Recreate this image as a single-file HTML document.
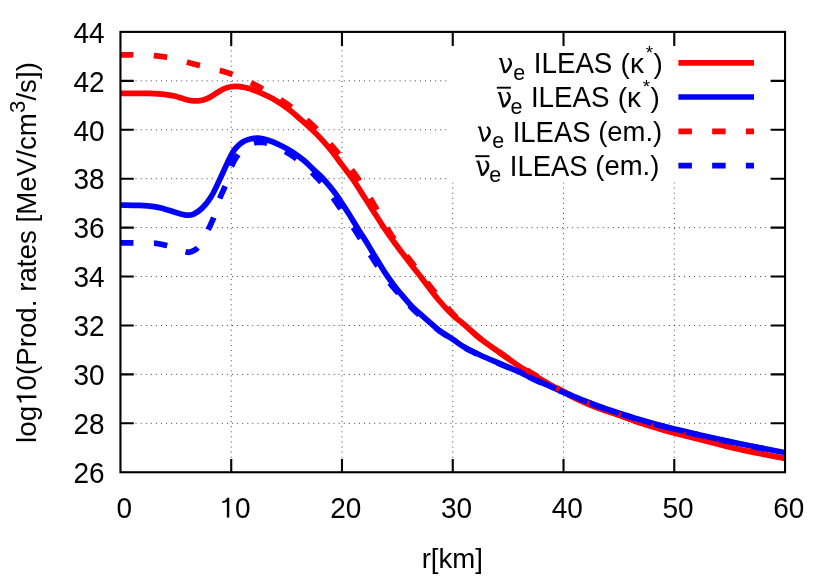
<!DOCTYPE html>
<html>
<head>
<meta charset="utf-8">
<title>Production rates</title>
<style>
html,body{margin:0;padding:0;background:#fff;}
body{width:830px;height:581px;overflow:hidden;}
svg{display:block;will-change:transform;}
text{font-family:"Liberation Sans",sans-serif;font-size:28px;fill:#000;}
.crv{fill:none;stroke-width:5.7;stroke-linejoin:round;stroke-linecap:butt;}
</style>
</head>
<body>
<svg width="830" height="581" viewBox="0 0 830 581">
<rect x="0" y="0" width="830" height="581" fill="#fff"/>
<!-- grid -->
<g stroke="#404040" stroke-width="1" fill="none">
<line x1="231.22" y1="31.90" x2="231.22" y2="472.25" stroke-dasharray="1 4.078" stroke-dashoffset="1.77"/>
<line x1="341.98" y1="31.90" x2="341.98" y2="472.25" stroke-dasharray="1 4.078" stroke-dashoffset="1.77"/>
<line x1="452.75" y1="31.90" x2="452.75" y2="472.25" stroke-dasharray="1 4.078" stroke-dashoffset="1.77"/>
<line x1="563.52" y1="31.90" x2="563.52" y2="472.25" stroke-dasharray="1 4.078" stroke-dashoffset="1.77"/>
<line x1="674.28" y1="31.90" x2="674.28" y2="472.25" stroke-dasharray="1 4.078" stroke-dashoffset="1.77"/>
<line x1="120.45" y1="423.32" x2="785.05" y2="423.32" stroke-dasharray="1 4.078" stroke-dashoffset="0.13"/>
<line x1="120.45" y1="374.39" x2="785.05" y2="374.39" stroke-dasharray="1 4.078" stroke-dashoffset="0.13"/>
<line x1="120.45" y1="325.47" x2="785.05" y2="325.47" stroke-dasharray="1 4.078" stroke-dashoffset="0.13"/>
<line x1="120.45" y1="276.54" x2="785.05" y2="276.54" stroke-dasharray="1 4.078" stroke-dashoffset="0.13"/>
<line x1="120.45" y1="227.61" x2="785.05" y2="227.61" stroke-dasharray="1 4.078" stroke-dashoffset="0.13"/>
<line x1="120.45" y1="178.68" x2="785.05" y2="178.68" stroke-dasharray="1 4.078" stroke-dashoffset="0.13"/>
<line x1="120.45" y1="129.76" x2="785.05" y2="129.76" stroke-dasharray="1 4.078" stroke-dashoffset="0.13"/>
<line x1="120.45" y1="80.83" x2="785.05" y2="80.83" stroke-dasharray="1 4.078" stroke-dashoffset="0.13"/>
</g>
<!-- opaque legend box -->
<rect x="448" y="33" width="319" height="149.4" fill="#fff"/>
<!-- ticks -->
<g stroke="#000" stroke-width="2.1" fill="none">
<path d="M231.22 472.25V459M231.22 31.90V46"/>
<path d="M341.98 472.25V459M341.98 31.90V46"/>
<path d="M452.75 472.25V459M452.75 31.90V46"/>
<path d="M563.52 472.25V459M563.52 31.90V46"/>
<path d="M674.28 472.25V459M674.28 31.90V46"/>
<path d="M120.45 423.32H133.8M785.05 423.32H770.8"/>
<path d="M120.45 374.39H133.8M785.05 374.39H770.8"/>
<path d="M120.45 325.47H133.8M785.05 325.47H770.8"/>
<path d="M120.45 276.54H133.8M785.05 276.54H770.8"/>
<path d="M120.45 227.61H133.8M785.05 227.61H770.8"/>
<path d="M120.45 178.68H133.8M785.05 178.68H770.8"/>
<path d="M120.45 129.76H133.8M785.05 129.76H770.8"/>
<path d="M120.45 80.83H133.8M785.05 80.83H770.8"/>
</g>
<!-- curves -->
<clipPath id="plotclip"><rect x="120.45" y="31.90" width="664.60" height="440.35"/></clipPath>
<g clip-path="url(#plotclip)">
<path class="crv" stroke="#ff0000" d="M120.20 93.40C122.67 93.40 130.03 93.39 135.00 93.40C139.97 93.41 146.17 93.38 150.00 93.45C153.83 93.52 155.33 93.61 158.00 93.80C160.67 93.99 163.25 94.22 166.00 94.60C168.75 94.98 171.50 95.38 174.50 96.10C177.50 96.82 181.58 98.20 184.00 98.90C186.42 99.60 187.43 99.97 189.00 100.30C190.57 100.63 191.90 100.82 193.40 100.90C194.90 100.98 196.40 100.95 198.00 100.80C199.60 100.65 201.33 100.43 203.00 100.00C204.67 99.57 206.40 98.93 208.00 98.20C209.60 97.47 210.77 96.72 212.60 95.60C214.43 94.48 216.92 92.70 219.00 91.50C221.08 90.30 223.10 89.18 225.10 88.40C227.10 87.62 229.12 87.13 231.00 86.80C232.88 86.47 234.40 86.35 236.40 86.40C238.40 86.45 240.68 86.68 243.00 87.10C245.32 87.52 247.00 87.77 250.30 88.90C253.60 90.03 258.62 92.02 262.80 93.90C266.98 95.78 271.20 97.72 275.40 100.20C279.60 102.68 283.90 105.68 288.00 108.80C292.10 111.92 295.98 115.40 300.00 118.90C304.02 122.40 308.20 126.07 312.10 129.80C316.00 133.53 320.08 137.67 323.40 141.30C326.72 144.93 328.93 147.72 332.00 151.60C335.07 155.48 338.40 160.08 341.80 164.60C345.20 169.12 348.52 173.08 352.40 178.70C356.28 184.32 361.33 192.45 365.10 198.30C368.87 204.15 371.87 208.92 375.00 213.80C378.13 218.68 380.57 222.70 383.90 227.60C387.23 232.50 391.48 238.37 395.00 243.20C398.52 248.03 402.13 252.80 405.00 256.60C407.87 260.40 409.60 262.68 412.20 266.00C414.80 269.32 417.95 273.13 420.60 276.55C423.25 279.97 424.87 282.34 428.10 286.50C431.33 290.66 435.92 296.75 440.00 301.50C444.08 306.25 448.38 311.00 452.60 315.00C456.82 319.00 460.73 321.57 465.30 325.50C469.87 329.43 474.33 334.13 480.00 338.60C485.67 343.07 492.87 347.77 499.30 352.30C505.73 356.83 512.18 361.62 518.60 365.80C525.02 369.98 531.38 373.60 537.80 377.40C544.22 381.20 551.40 385.40 557.10 388.60C562.80 391.80 566.93 394.05 572.00 396.60C577.07 399.15 582.83 401.87 587.50 403.90C592.17 405.93 594.58 406.85 600.00 408.80C605.42 410.75 613.98 413.47 620.00 415.60C626.02 417.73 630.27 419.62 636.10 421.60C641.93 423.58 648.63 425.60 655.00 427.50C661.37 429.40 666.80 431.02 674.30 433.00C681.80 434.98 689.05 436.65 700.00 439.40C710.95 442.15 725.67 446.30 740.00 449.50C754.33 452.70 778.33 457.08 786.00 458.60"/>
<path class="crv" stroke="#0000ff" d="M120.20 205.00C123.45 205.07 134.05 205.13 139.70 205.40C145.35 205.67 150.00 206.02 154.10 206.60C158.20 207.18 160.68 207.92 164.30 208.90C167.92 209.88 172.18 211.47 175.80 212.50C179.42 213.53 183.10 214.80 186.00 215.10C188.90 215.40 190.55 215.42 193.20 214.30C195.85 213.18 198.88 211.37 201.90 208.40C204.92 205.43 208.17 201.65 211.30 196.50C214.43 191.35 217.98 183.18 220.70 177.50C223.42 171.82 225.42 166.88 227.60 162.40C229.78 157.92 231.82 153.60 233.80 150.60C235.78 147.60 237.63 146.03 239.50 144.40C241.37 142.77 243.03 141.75 245.00 140.80C246.97 139.85 249.03 139.15 251.30 138.70C253.57 138.25 255.78 137.83 258.60 138.10C261.42 138.37 264.60 139.12 268.20 140.30C271.80 141.48 276.18 143.28 280.20 145.20C284.22 147.12 288.28 149.20 292.30 151.80C296.32 154.40 300.62 157.70 304.30 160.80C307.98 163.90 311.25 167.42 314.40 170.40C317.55 173.38 319.92 175.13 323.20 178.70C326.48 182.27 330.98 187.72 334.10 191.80C337.22 195.88 339.48 199.58 341.90 203.20C344.32 206.82 345.80 209.03 348.60 213.50C351.40 217.97 355.68 225.17 358.70 230.00C361.72 234.83 364.45 238.88 366.70 242.50C368.95 246.12 369.23 246.80 372.20 251.70C375.17 256.60 380.78 266.18 384.50 271.90C388.22 277.62 392.05 282.68 394.50 286.00C396.95 289.32 396.50 288.60 399.20 291.80C401.90 295.00 407.35 301.63 410.70 305.20C414.05 308.77 416.42 310.58 419.30 313.20C422.18 315.82 424.78 318.10 428.00 320.90C431.22 323.70 434.50 326.95 438.60 330.00C442.70 333.05 448.35 336.37 452.60 339.20C456.85 342.03 459.53 344.37 464.10 347.00C468.67 349.63 474.13 352.27 480.00 355.00C485.87 357.73 492.87 360.63 499.30 363.40C505.73 366.17 512.18 368.68 518.60 371.60C525.02 374.52 531.38 377.95 537.80 380.90C544.22 383.85 552.83 387.45 557.10 389.30C561.37 391.15 560.55 390.78 563.40 392.00C566.25 393.22 570.18 394.93 574.20 396.60C578.22 398.27 582.48 400.05 587.50 402.00C592.52 403.95 598.88 406.40 604.30 408.30C609.72 410.20 614.70 411.68 620.00 413.40C625.30 415.12 630.27 416.83 636.10 418.60C641.93 420.37 648.63 422.28 655.00 424.00C661.37 425.72 666.80 427.07 674.30 428.90C681.80 430.73 689.05 432.53 700.00 435.00C710.95 437.47 725.67 440.73 740.00 443.70C754.33 446.67 778.33 451.28 786.00 452.80"/>
<path class="crv" stroke="#ff0000" d="M119.95 54.79L120.27 54.79L120.78 54.79L121.29 54.79L121.80 54.79L122.32 54.79L122.83 54.79L123.34 54.79L123.84 54.79L124.34 54.79L124.83 54.79L125.32 54.80L125.79 54.80L126.25 54.80L126.70 54.80L127.14 54.80L127.57 54.80L127.99 54.80L128.41 54.80L128.83 54.80L129.24 54.79L129.65 54.79L130.05 54.79L130.46 54.78L130.86 54.78L131.26 54.77L131.67 54.77L132.07 54.77L132.48 54.76L132.89 54.76L133.31 54.76L133.45 54.76 M153.78 55.67L154.49 55.73L155.20 55.79L155.91 55.84L156.60 55.90L157.29 55.96L157.96 56.03L158.62 56.09L159.26 56.16L159.89 56.23L160.50 56.30L161.09 56.37L161.67 56.45L162.24 56.52L162.80 56.60L163.35 56.68L163.89 56.76L164.42 56.84L164.94 56.92L165.46 57.00L165.97 57.09L166.47 57.18L166.97 57.27L167.17 57.30 M186.89 62.11L187.00 62.14L187.59 62.31L188.18 62.48L188.77 62.64L189.36 62.81L189.94 62.97L190.52 63.13L191.11 63.29L191.68 63.45L192.26 63.60L192.83 63.75L193.40 63.90L193.97 64.05L194.53 64.19L195.09 64.33L195.66 64.48L196.22 64.62L196.78 64.76L197.34 64.89L197.89 65.03L198.45 65.17L199.01 65.30L199.56 65.44L199.95 65.53 M219.71 70.44L219.84 70.47L220.38 70.61L220.92 70.76L221.46 70.90L221.99 71.05L222.52 71.20L223.06 71.35L223.59 71.50L224.11 71.66L224.64 71.81L225.16 71.97L225.68 72.13L226.20 72.30L226.71 72.47L227.23 72.63L227.73 72.80L228.23 72.97L228.73 73.14L229.23 73.32L229.73 73.49L230.22 73.66L230.71 73.84L231.20 74.02L231.68 74.20L232.17 74.38L232.57 74.53 M250.90 82.71L251.16 82.84L251.69 83.11L252.23 83.38L252.76 83.65L253.29 83.92L253.82 84.19L254.34 84.46L254.86 84.73L255.38 85.00L255.89 85.27L256.40 85.54L256.90 85.80L257.40 86.06L257.89 86.32L258.38 86.59L258.86 86.85L259.34 87.10L259.82 87.36L260.29 87.62L260.77 87.88L261.23 88.14L261.70 88.40L262.16 88.65L262.63 88.91L262.83 89.03 M280.37 99.57L280.61 99.72L281.11 100.05L281.62 100.37L282.12 100.70L282.62 101.02L283.11 101.35L283.61 101.68L284.09 102.00L284.58 102.33L285.06 102.65L285.53 102.98L286.00 103.30L286.46 103.62L286.93 103.95L287.38 104.27L287.84 104.59L288.28 104.91L288.73 105.23L289.17 105.56L289.62 105.88L290.05 106.20L290.49 106.52L290.92 106.85L291.35 107.17L291.47 107.26 M306.81 119.85L307.23 120.22L307.66 120.60L308.08 120.98L308.51 121.37L308.93 121.75L309.35 122.13L309.76 122.51L310.17 122.89L310.59 123.27L310.99 123.64L311.40 124.02L311.80 124.40L312.20 124.78L312.59 125.15L312.98 125.52L313.37 125.90L313.75 126.27L314.14 126.64L314.51 127.01L314.89 127.38L315.27 127.75L315.64 128.12L316.01 128.49L316.38 128.86L316.63 129.12 M330.20 143.88L330.42 144.13L330.81 144.59L331.20 145.03L331.58 145.48L331.97 145.93L332.35 146.38L332.73 146.82L333.11 147.26L333.49 147.70L333.86 148.14L334.23 148.57L334.60 149.00L334.97 149.43L335.33 149.85L335.69 150.27L336.04 150.69L336.40 151.11L336.75 151.53L337.10 151.94L337.45 152.35L337.80 152.76L338.14 153.17L338.49 153.58L338.83 153.99L338.96 154.15 M351.65 169.80L351.87 170.08L352.23 170.54L352.58 171.01L352.94 171.47L353.29 171.94L353.64 172.40L353.99 172.87L354.34 173.33L354.69 173.80L355.03 174.27L355.36 174.73L355.70 175.20L356.03 175.67L356.36 176.14L356.69 176.60L357.01 177.07L357.34 177.55L357.66 178.02L357.98 178.49L358.30 178.96L358.61 179.44L358.93 179.91L359.24 180.39L359.50 180.78 M370.29 198.28L370.56 198.75L370.85 199.24L371.14 199.73L371.42 200.21L371.71 200.70L372.00 201.19L372.28 201.67L372.56 202.16L372.85 202.65L373.13 203.13L373.42 203.62L373.70 204.10L373.98 204.58L374.26 205.06L374.55 205.54L374.83 206.02L375.10 206.50L375.38 206.98L375.66 207.46L375.94 207.94L376.21 208.41L376.49 208.89L376.76 209.36L377.04 209.84L377.09 209.93 M387.09 227.78L387.30 228.16L387.59 228.67L387.87 229.17L388.16 229.68L388.44 230.18L388.73 230.68L389.02 231.17L389.32 231.67L389.61 232.16L389.90 232.64L390.20 233.12L390.50 233.60L390.80 234.07L391.10 234.54L391.40 235.01L391.71 235.47L392.01 235.92L392.32 236.38L392.62 236.83L392.93 237.28L393.24 237.72L393.55 238.17L393.86 238.61L394.17 239.05L394.27 239.19 M406.58 255.75L406.75 255.97L407.12 256.45L407.48 256.92L407.84 257.39L408.21 257.86L408.57 258.33L408.93 258.80L409.28 259.26L409.64 259.73L410.00 260.19L410.35 260.65L410.70 261.10L411.05 261.55L411.40 262.00L411.75 262.45L412.09 262.89L412.44 263.34L412.79 263.78L413.13 264.22L413.48 264.65L413.82 265.09L414.17 265.53L414.51 265.96L414.85 266.39L414.87 266.41 M427.10 282.33L427.16 282.41L427.50 282.87L427.84 283.32L428.18 283.77L428.52 284.22L428.86 284.67L429.19 285.11L429.53 285.55L429.87 285.99L430.20 286.42L430.53 286.85L430.87 287.28L431.20 287.70L431.53 288.12L431.86 288.53L432.18 288.94L432.51 289.34L432.83 289.74L433.15 290.13L433.47 290.52L433.79 290.91L434.11 291.30L434.43 291.68L434.74 292.06L435.06 292.44L435.37 292.82L435.47 292.93 M447.42 307.47L447.45 307.51L447.82 307.96L448.19 308.41L448.56 308.86L448.93 309.30L449.29 309.74L449.66 310.17L450.02 310.59L450.38 311.01L450.74 311.42L451.10 311.82L451.45 312.22L451.80 312.60L452.15 312.98L452.51 313.36L452.88 313.75L453.26 314.13L453.63 314.52L454.02 314.90L454.40 315.29L454.79 315.67L455.18 316.05L455.57 316.42L455.96 316.79L456.34 317.16L456.57 317.37 M471.48 330.85L471.86 331.21L472.34 331.65L472.82 332.10L473.30 332.54L473.79 332.99L474.29 333.44L474.79 333.89L475.29 334.34L475.80 334.80L476.31 335.25L476.83 335.70L477.36 336.15L477.89 336.60L478.43 337.05L478.98 337.50L479.54 337.95L480.10 338.40L480.67 338.85L481.25 339.30L481.71 339.65 M498.33 351.35L498.75 351.65L499.40 352.10L500.04 352.55L500.69 353.01L501.33 353.47L501.97 353.92L502.62 354.38L503.26 354.84L503.91 355.30L504.55 355.76L505.19 356.22L505.84 356.69L506.48 357.15L507.12 357.61L507.77 358.07L508.41 358.52L509.06 358.98L509.33 359.17 M526.30 369.91L526.92 370.28L527.56 370.66L528.20 371.04L528.84 371.42L529.48 371.80L530.12 372.18L530.76 372.56L531.40 372.93L532.04 373.31L532.68 373.68L533.32 374.06L533.96 374.44L534.60 374.81L535.24 375.19L535.88 375.56L536.52 375.94L537.16 376.32L537.80 376.70L537.92 376.77 M556.50 387.56L556.53 387.58L557.10 387.90L557.66 388.22L558.22 388.53L558.77 388.83L559.30 389.13L559.83 389.43L560.35 389.72L560.87 390.00L561.37 390.28L561.87 390.56L562.37 390.83L562.86 391.10L563.35 391.36L563.83 391.63L564.31 391.89L564.79 392.14L565.26 392.40L565.74 392.65L566.21 392.90L566.68 393.15L567.15 393.40L567.62 393.65L568.10 393.90L568.35 394.03 M587.00 402.98L587.03 402.99L587.50 403.20L587.96 403.40L588.40 403.59L588.84 403.78L589.26 403.96L589.67 404.13L590.07 404.30L590.47 404.47L590.85 404.63L591.23 404.79L591.61 404.94L591.98 405.09L592.36 405.24L592.73 405.39L593.10 405.54L593.47 405.68L593.84 405.83L594.22 405.97L594.60 406.12L594.99 406.27L595.39 406.41L595.79 406.57L596.21 406.72L596.63 406.88L597.07 407.04L597.52 407.20L597.98 407.37L598.46 407.54L598.96 407.72L599.47 407.91L599.55 407.94 M618.60 414.41L618.76 414.47L619.39 414.68L620.00 414.90L620.60 415.11L621.18 415.32L621.76 415.53L622.32 415.74L622.88 415.95L623.42 416.15L623.97 416.36L624.50 416.56L625.03 416.76L625.55 416.96L626.07 417.16L626.59 417.36L627.10 417.56L627.61 417.76L628.12 417.96L628.63 418.15L629.14 418.35L629.65 418.55L630.16 418.74L630.67 418.94L631.19 419.13L631.24 419.15 M651.10 425.63L651.15 425.65L651.79 425.84L652.44 426.03L653.08 426.23L653.72 426.42L654.36 426.61L655.00 426.80L655.63 426.99L656.26 427.18L656.88 427.36L657.50 427.55L658.12 427.73L658.73 427.91L659.34 428.09L659.95 428.27L660.56 428.45L661.17 428.63L661.77 428.81L662.38 428.99L663.00 429.16L663.61 429.34L664.04 429.47 M683.60 434.66L684.23 434.81L685.04 435.01L685.86 435.21L686.69 435.42L687.53 435.62L688.38 435.83L689.25 436.04L690.14 436.26L691.04 436.48L691.95 436.70L692.89 436.93L693.84 437.17L694.82 437.41L695.81 437.65L696.71 437.88 M716.50 443.00L717.37 443.23L718.73 443.58L720.10 443.94L721.49 444.30L722.88 444.65L724.28 445.01L725.69 445.37L727.11 445.73L728.53 446.08L729.58 446.34 M749.50 450.82L749.55 450.83L751.28 451.18L753.04 451.54L754.81 451.89L756.59 452.24L758.38 452.60L760.18 452.95L761.96 453.30L762.74 453.45 M782.70 457.26L783.24 457.36L784.26 457.56L785.18 457.74L786.00 457.90"/>

<path class="crv" stroke="#0000ff" d="M119.95 242.79L120.27 242.79L120.78 242.79L121.29 242.79L121.80 242.79L122.32 242.79L122.83 242.79L123.34 242.79L123.84 242.79L124.34 242.79L124.83 242.79L125.32 242.80L125.79 242.80L126.25 242.80L126.70 242.80L127.14 242.80L127.58 242.80L128.02 242.81L128.46 242.81L128.90 242.81L129.34 242.81L129.78 242.81L130.22 242.81L130.66 242.82L131.10 242.82L131.54 242.82L131.98 242.82L132.42 242.83L132.86 242.83L133.30 242.83L133.45 242.83 M153.93 243.20L154.00 243.20L154.34 243.22L154.65 243.25L154.96 243.27L155.25 243.29L155.53 243.32L155.79 243.35L156.05 243.37L156.29 243.40L156.52 243.43L156.75 243.46L156.96 243.49L157.17 243.53L157.37 243.56L157.57 243.59L157.76 243.62L157.95 243.66L158.13 243.69L158.32 243.73L158.50 243.77L158.67 243.80L158.85 243.84L159.03 243.88L159.21 243.92L159.40 243.96L159.59 244.00L159.78 244.04L159.97 244.08L160.18 244.12L160.38 244.16L160.60 244.20L160.82 244.24L161.03 244.28L161.25 244.32L161.46 244.36L161.66 244.40L161.87 244.44L162.07 244.48L162.28 244.52L162.48 244.56L162.68 244.60L162.88 244.65L163.09 244.69L163.29 244.73L163.49 244.77L163.70 244.82L163.91 244.86L164.12 244.91L164.33 244.96L164.54 245.01L164.76 245.06L164.98 245.12L165.21 245.17L165.44 245.23L165.68 245.29L165.91 245.35L166.16 245.42L166.41 245.48L166.67 245.55L166.93 245.62L167.18 245.69 M185.51 251.67L185.73 251.73L185.99 251.81L186.24 251.88L186.48 251.94L186.70 252.00L186.91 252.05L187.11 252.10L187.29 252.13L187.46 252.17L187.62 252.20L187.77 252.22L187.91 252.24L188.04 252.26L188.16 252.27L188.28 252.28L188.38 252.29L188.49 252.29L188.58 252.29L188.67 252.28L188.76 252.28L188.84 252.27L188.92 252.25L188.99 252.24L189.07 252.22L189.14 252.21L189.22 252.19L189.29 252.17L189.37 252.15L189.45 252.13L189.53 252.11L189.61 252.08L189.70 252.06L189.80 252.04L189.89 252.02L190.00 252.00L190.11 251.98L190.21 251.96L190.32 251.94L190.42 251.91L190.53 251.89L190.63 251.86L190.73 251.84L190.83 251.81L190.93 251.78L191.03 251.75L191.13 251.72L191.23 251.69L191.34 251.65L191.44 251.62L191.54 251.58L191.64 251.54L191.74 251.50L191.85 251.46L191.95 251.42L192.06 251.37L192.16 251.32L192.27 251.27L192.38 251.22L192.49 251.17L192.60 251.11L192.72 251.05L192.84 250.99L192.95 250.93L193.08 250.87L193.20 250.80L193.33 250.73L193.45 250.67L193.58 250.60L193.71 250.54L193.84 250.47L193.97 250.41L194.10 250.34L194.24 250.28L194.37 250.21L194.51 250.14L194.64 250.07L194.78 250.00L194.92 249.93L195.06 249.85L195.21 249.77L195.35 249.68L195.49 249.59L195.64 249.50L195.79 249.40L195.94 249.30L196.09 249.19L196.24 249.08L196.39 248.96L196.55 248.83L196.70 248.69L196.86 248.55L197.02 248.40L197.18 248.24L197.34 248.08L197.50 247.90L197.66 247.72 M208.08 229.77L208.23 229.46L208.40 229.10L208.57 228.74L208.75 228.38L208.92 228.02L209.10 227.65L209.27 227.29L209.45 226.93L209.62 226.57L209.80 226.21L209.97 225.85L210.15 225.49L210.32 225.13L210.50 224.77L210.67 224.41L210.84 224.05L211.01 223.69L211.18 223.33L211.35 222.97L211.52 222.62L211.69 222.26L211.85 221.90L212.02 221.54L212.18 221.18L212.34 220.82L212.50 220.46L212.65 220.10L212.81 219.74L212.96 219.38L213.11 219.02L213.26 218.66L213.40 218.30L213.54 217.94L213.68 217.58L213.71 217.51 M219.73 198.45L219.77 198.35L219.90 198.00L220.04 197.65L220.18 197.29L220.33 196.92L220.48 196.55L220.64 196.17L220.80 195.80L220.97 195.41L221.14 195.03L221.32 194.64L221.50 194.24L221.68 193.85L221.86 193.45L222.04 193.06L222.23 192.66L222.41 192.26L222.60 191.86L222.78 191.45L222.97 191.05L223.15 190.65L223.34 190.26L223.52 189.86L223.70 189.46L223.87 189.07L224.05 188.68L224.22 188.29L224.38 187.90L224.54 187.52L224.70 187.14L224.85 186.77L225.00 186.40L225.13 186.08 M231.55 166.27L231.57 166.24L231.71 165.89L231.85 165.54L232.00 165.20L232.15 164.86L232.30 164.52L232.46 164.18L232.62 163.84L232.78 163.51L232.94 163.17L233.10 162.84L233.27 162.50L233.44 162.17L233.61 161.84L233.78 161.51L233.96 161.18L234.14 160.86L234.32 160.53L234.50 160.21L234.68 159.88L234.87 159.56L235.06 159.24L235.25 158.92L235.44 158.60L235.64 158.29L235.84 157.97L236.04 157.66L236.24 157.35L236.44 157.03L236.65 156.72L236.86 156.42L237.07 156.11L237.28 155.80L237.50 155.50L237.72 155.20L237.94 154.89L238.16 154.58L238.18 154.55 M253.92 143.01L254.04 142.98L254.30 142.90L254.56 142.83L254.81 142.76L255.05 142.71L255.29 142.65L255.52 142.61L255.75 142.57L255.97 142.53L256.19 142.50L256.41 142.47L256.62 142.45L256.83 142.43L257.03 142.42L257.23 142.41L257.43 142.40L257.63 142.40L257.83 142.40L258.02 142.40L258.22 142.40L258.41 142.41L258.60 142.41L258.80 142.42L258.99 142.43L259.19 142.44L259.38 142.45L259.58 142.46L259.78 142.47L259.98 142.48L260.18 142.49L260.39 142.49L260.60 142.50L260.81 142.50L261.01 142.51L261.21 142.51L261.41 142.50L261.60 142.50L261.78 142.50L261.97 142.50L262.15 142.49L262.34 142.49L262.52 142.49L262.70 142.49L262.88 142.49L263.07 142.49L263.25 142.50L263.44 142.51L263.64 142.52L263.83 142.53L264.03 142.55L264.24 142.57L264.45 142.60L264.67 142.63L264.89 142.67L265.12 142.71L265.36 142.76L265.61 142.82L265.87 142.88L266.13 142.95L266.41 143.02L266.70 143.11L267.00 143.20L267.26 143.28 M285.23 151.50L285.33 151.56L285.73 151.78L286.13 152.01L286.53 152.23L286.93 152.46L287.33 152.70L287.73 152.93L288.13 153.18L288.54 153.42L288.94 153.67L289.35 153.93L289.76 154.19L290.17 154.45L290.58 154.72L291.00 155.00L291.42 155.28L291.84 155.57L292.26 155.86L292.69 156.15L293.11 156.45L293.54 156.75L293.97 157.06L294.41 157.37L294.84 157.69L295.27 158.00L295.71 158.33L296.15 158.65L296.50 158.92 M311.91 172.45L312.16 172.70L312.58 173.12L312.99 173.54L313.41 173.97L313.82 174.39L314.23 174.81L314.63 175.23L315.03 175.65L315.43 176.06L315.82 176.48L316.21 176.89L316.60 177.30L316.98 177.71L317.36 178.11L317.73 178.52L318.10 178.92L318.47 179.32L318.83 179.72L319.19 180.12L319.54 180.52L319.90 180.91L320.25 181.31L320.60 181.71L320.94 182.11L321.12 182.31 M333.05 197.85L333.28 198.18L333.60 198.65L333.93 199.12L334.26 199.60L334.59 200.07L334.92 200.55L335.24 201.02L335.57 201.50L335.90 201.97L336.24 202.45L336.57 202.92L336.90 203.40L337.23 203.88L337.57 204.35L337.90 204.83L338.24 205.31L338.58 205.79L338.91 206.27L339.25 206.75L339.59 207.23L339.92 207.72L340.26 208.20L340.60 208.68L340.77 208.93 M353.15 227.32L353.34 227.61L353.66 228.11L353.99 228.61L354.31 229.11L354.63 229.61L354.95 230.10L355.26 230.59L355.58 231.08L355.89 231.57L356.19 232.05L356.50 232.53L356.80 233.00L357.10 233.47L357.39 233.93L357.68 234.40L357.97 234.85L358.25 235.31L358.53 235.76L358.81 236.20L359.08 236.65L359.36 237.09L359.63 237.53L359.89 237.97L360.16 238.40L360.36 238.73 M370.27 254.71L370.56 255.16L370.86 255.63L371.16 256.11L371.46 256.58L371.76 257.06L372.06 257.54L372.37 258.01L372.67 258.49L372.98 258.97L373.28 259.44L373.59 259.92L373.90 260.40L374.21 260.88L374.52 261.36L374.83 261.85L375.14 262.33L375.45 262.82L375.76 263.31L376.07 263.80L376.39 264.29L376.70 264.79L377.01 265.28L377.33 265.78L377.53 266.09 M389.69 283.00L389.82 283.16L390.18 283.60L390.53 284.03L390.89 284.46L391.24 284.89L391.59 285.31L391.94 285.74L392.29 286.16L392.64 286.57L392.98 286.98L393.32 287.39L393.66 287.80L394.00 288.20L394.33 288.60L394.66 288.99L394.99 289.37L395.32 289.76L395.64 290.13L395.96 290.50L396.28 290.87L396.60 291.24L396.91 291.60L397.23 291.96L397.54 292.31L397.85 292.66L398.16 293.02L398.42 293.30 M409.60 305.55L409.93 305.90L410.29 306.29L410.66 306.67L411.02 307.06L411.38 307.44L411.75 307.82L412.11 308.19L412.48 308.57L412.84 308.94L413.20 309.31L413.57 309.68L413.93 310.04L414.30 310.40L414.67 310.76L415.06 311.13L415.45 311.51L415.85 311.89L416.27 312.28L416.69 312.66L417.11 313.06L417.54 313.45L417.98 313.84L418.41 314.24L418.85 314.63L419.25 314.99 M436.05 328.30L436.23 328.45L436.61 328.76L437.00 329.07L437.39 329.38L437.79 329.69L438.19 329.99L438.60 330.30L439.02 330.61L439.44 330.91L439.87 331.22L440.32 331.53L440.77 331.84L441.22 332.16L441.69 332.47L442.15 332.78L442.63 333.10L443.11 333.41L443.59 333.73L444.08 334.04L444.56 334.35L445.05 334.67L445.54 334.98L446.04 335.29L446.53 335.61L447.02 335.92L447.14 335.99 M465.04 347.84L465.50 348.09L465.97 348.35L466.46 348.62L466.94 348.88L467.44 349.14L467.94 349.41L468.44 349.67L468.95 349.94L469.46 350.20L469.98 350.47L470.50 350.73L471.03 351.00L471.56 351.26L472.10 351.53L472.64 351.79L473.18 352.06L473.73 352.33L474.29 352.60L474.84 352.86L475.40 353.13L475.97 353.40L476.53 353.67L477.09 353.93 M496.74 362.60L497.35 362.87L498.01 363.14L498.65 363.42L499.30 363.70L499.94 363.98L500.59 364.25L501.23 364.52L501.87 364.79L502.52 365.07L503.16 365.34L503.81 365.60L504.45 365.87L505.09 366.14L505.74 366.41L506.38 366.67L507.02 366.94L507.67 367.21L508.31 367.48L508.96 367.74L509.18 367.84 M528.70 376.79L528.84 376.86L529.48 377.17L530.12 377.49L530.76 377.81L531.40 378.13L532.04 378.44L532.68 378.76L533.32 379.07L533.96 379.38L534.60 379.69L535.24 380.00L535.88 380.30L536.52 380.60L537.16 380.90L537.80 381.20L538.45 381.50L539.11 381.80L539.78 382.10L540.47 382.41L540.89 382.59 M558.90 390.38L559.12 390.47L559.37 390.58L559.59 390.68L559.80 390.77L560.00 390.85L560.17 390.93L560.34 391.00L560.50 391.07L560.64 391.13L560.78 391.19L560.92 391.24L561.05 391.30L561.18 391.36L561.31 391.41L561.45 391.47L561.59 391.53L561.74 391.59L561.89 391.66L562.06 391.73L562.24 391.81L562.43 391.89L562.65 391.98L562.88 392.08L563.13 392.18L563.40 392.30L563.69 392.42L563.98 392.55L564.29 392.68L564.60 392.81L564.91 392.95L565.23 393.09L565.56 393.23L565.89 393.37L566.23 393.52L566.57 393.66L566.92 393.81L567.28 393.96L567.63 394.12L568.00 394.27L568.36 394.43L568.73 394.59L569.11 394.75L569.48 394.91L569.86 395.07L570.25 395.24L570.63 395.40L571.02 395.57L571.31 395.69 M589.40 403.04L589.57 403.10L590.11 403.31L590.65 403.52L591.20 403.73L591.76 403.95L592.32 404.16L592.88 404.38L593.45 404.59L594.02 404.81L594.60 405.03L595.17 405.25L595.75 405.47L596.33 405.69L596.91 405.91L597.49 406.12L598.07 406.34L598.65 406.56L599.23 406.77L599.81 406.98L600.38 407.19L600.95 407.40L601.52 407.61L602.03 407.79 M621.00 414.03L621.06 414.04L621.58 414.22L622.11 414.39L622.63 414.56L623.15 414.73L623.67 414.90L624.19 415.07L624.71 415.25L625.23 415.42L625.75 415.59L626.28 415.76L626.80 415.94L627.32 416.11L627.85 416.28L628.38 416.45L628.91 416.63L629.44 416.80L629.97 416.97L630.51 417.15L631.05 417.32L631.60 417.50L632.14 417.67L632.69 417.85L633.25 418.02L633.81 418.20L633.84 418.20 M653.50 423.89L653.72 423.95L654.36 424.13L655.00 424.30L655.63 424.47L656.26 424.64L656.88 424.80L657.50 424.97L658.12 425.13L658.73 425.29L659.34 425.45L659.95 425.61L660.56 425.77L661.17 425.93L661.77 426.08L662.38 426.24L663.00 426.39L663.61 426.55L664.22 426.71L664.85 426.86L665.47 427.02L666.10 427.18L666.56 427.29 M686.00 432.05L686.69 432.21L687.53 432.41L688.38 432.62L689.25 432.82L690.14 433.03L691.04 433.24L691.95 433.46L692.89 433.67L693.84 433.89L694.82 434.12L695.81 434.35L696.82 434.58L697.86 434.82L698.92 435.06L699.15 435.11 M718.90 439.50L720.10 439.76L721.49 440.06L722.88 440.37L724.28 440.67L725.69 440.97L727.11 441.28L728.53 441.58L729.96 441.89L731.39 442.19L732.10 442.34 M751.90 446.41L753.04 446.64L754.81 446.99L756.59 447.34L758.38 447.69L760.18 448.05L761.96 448.40L763.74 448.75L765.14 449.02 M785.10 452.92L785.18 452.94L786.00 453.10"/>
</g>
<!-- border -->
<rect x="120.45" y="31.90" width="664.60" height="440.35" fill="none" stroke="#000" stroke-width="2.1"/>
<!-- tick labels -->
<text transform="translate(104.60 483.05) scale(1 1.047)" text-anchor="end">26</text>
<text transform="translate(104.60 434.12) scale(1 1.047)" text-anchor="end">28</text>
<text transform="translate(104.60 385.19) scale(1 1.047)" text-anchor="end">30</text>
<text transform="translate(104.60 336.27) scale(1 1.047)" text-anchor="end">32</text>
<text transform="translate(104.60 287.34) scale(1 1.047)" text-anchor="end">34</text>
<text transform="translate(104.60 238.41) scale(1 1.047)" text-anchor="end">36</text>
<text transform="translate(104.60 189.48) scale(1 1.047)" text-anchor="end">38</text>
<text transform="translate(104.60 140.56) scale(1 1.047)" text-anchor="end">40</text>
<text transform="translate(104.60 91.63) scale(1 1.047)" text-anchor="end">42</text>
<text transform="translate(104.60 42.70) scale(1 1.047)" text-anchor="end">44</text>
<text transform="translate(124.25 517.60) scale(1 1.047)" text-anchor="middle">0</text>
<path d="M10.43 -19.88V0H8.02V-15.96Q6.9 -15.3 6.21 -15.06Q5 -14.75 3.5 -14.7V-16.51Q5.2 -16.7 6.21 -17.17Q7.3 -17.9 7.9 -19L8.44 -19.88Z" transform="translate(218.84 517.60)" fill="#000"/>
<text transform="translate(235.02 517.60) scale(1 1.047)">0</text>
<text transform="translate(345.78 517.60) scale(1 1.047)" text-anchor="middle">20</text>
<text transform="translate(456.55 517.60) scale(1 1.047)" text-anchor="middle">30</text>
<text transform="translate(567.32 517.60) scale(1 1.047)" text-anchor="middle">40</text>
<text transform="translate(678.08 517.60) scale(1 1.047)" text-anchor="middle">50</text>
<text transform="translate(788.85 517.60) scale(1 1.047)" text-anchor="middle">60</text>
<!-- axis titles -->
<g transform="translate(36.4 252.5) rotate(-90) scale(0.991 1)">
<text x="-192.19" y="0">log</text>
<path d="M10.43 -19.88V0H8.02V-15.96Q6.9 -15.3 6.21 -15.06Q5 -14.75 3.5 -14.7V-16.51Q5.2 -16.7 6.21 -17.17Q7.3 -17.9 7.9 -19L8.44 -19.88Z" transform="translate(-154.81 0)" fill="#000"/>
<text x="-139.24" y="0">0(Prod. rates [MeV/cm</text>
<text x="140.86" y="-11" style="font-size:22.4px">3</text>
<text x="153.31" y="0">/s])</text>
</g>
<text transform="translate(452.3 568.2) scale(0.985 1)" text-anchor="middle">r[km]</text>
<!-- legend -->
<line x1="678.40" y1="62.95" x2="754.00" y2="62.95" stroke="#ff0000" stroke-width="5.7"/>
<line x1="678.40" y1="97.00" x2="754.00" y2="97.00" stroke="#0000ff" stroke-width="5.7"/>
<line x1="678.40" y1="131.45" x2="754.00" y2="131.45" stroke="#ff0000" stroke-width="5.7" stroke-dasharray="13.5 20.25"/>
<line x1="678.40" y1="165.55" x2="754.00" y2="165.55" stroke="#0000ff" stroke-width="5.7" stroke-dasharray="13.5 20.25"/>
<path d="M3.84 -13.3L3.93 -14.55L6.82 -14.63L10.21 -1.86Q12.6 -4.6 14 -7.4Q15.1 -10.3 13.84 -12.4L12.31 -13.97L13.14 -14.63L14.67 -14.46Q16.9 -12.4 17.02 -9.71Q16.9 -6.5 14.46 -3.31L11.36 0.5L8.47 0.74L4.88 -13.02Z" transform="translate(495.16 72.60)" fill="#000"/>
<text x="513.20" y="79.60" style="font-size:21.5px">e</text>
<text transform="translate(533.80 73.10) scale(0.99 1.047)">ILEAS</text>
<text x="620.57" y="72.60">(κ</text>
<text x="645.80" y="59.15" style="font-size:19px">*</text>
<text x="653.50" y="72.60">)</text>
<path d="M3.84 -13.3L3.93 -14.55L6.82 -14.63L10.21 -1.86Q12.6 -4.6 14 -7.4Q15.1 -10.3 13.84 -12.4L12.31 -13.97L13.14 -14.63L14.67 -14.46Q16.9 -12.4 17.02 -9.71Q16.9 -6.5 14.46 -3.31L11.36 0.5L8.47 0.74L4.88 -13.02Z" transform="translate(493.96 106.70)" fill="#000"/>
<path d="M496.80 87.70h14.1" stroke="#000" stroke-width="1.9" fill="none"/>
<text x="510.40" y="113.70" style="font-size:21.5px">e</text>
<text transform="translate(530.90 107.20) scale(0.99 1.047)">ILEAS</text>
<text x="617.67" y="106.70">(κ</text>
<text x="642.80" y="93.25" style="font-size:19px">*</text>
<text x="650.50" y="106.70">)</text>
<path d="M3.84 -13.3L3.93 -14.55L6.82 -14.63L10.21 -1.86Q12.6 -4.6 14 -7.4Q15.1 -10.3 13.84 -12.4L12.31 -13.97L13.14 -14.63L14.67 -14.46Q16.9 -12.4 17.02 -9.71Q16.9 -6.5 14.46 -3.31L11.36 0.5L8.47 0.74L4.88 -13.02Z" transform="translate(473.96 141.10)" fill="#000"/>
<text x="492.20" y="148.10" style="font-size:21.5px">e</text>
<text transform="translate(512.70 141.60) scale(0.981 1.047)">ILEAS</text>
<text transform="translate(598.21 141.10) scale(0.981 1)">(em.)</text>
<path d="M3.84 -13.3L3.93 -14.55L6.82 -14.63L10.21 -1.86Q12.6 -4.6 14 -7.4Q15.1 -10.3 13.84 -12.4L12.31 -13.97L13.14 -14.63L14.67 -14.46Q16.9 -12.4 17.02 -9.71Q16.9 -6.5 14.46 -3.31L11.36 0.5L8.47 0.74L4.88 -13.02Z" transform="translate(472.46 175.20)" fill="#000"/>
<path d="M475.30 156.20h14.1" stroke="#000" stroke-width="1.9" fill="none"/>
<text x="489.30" y="182.20" style="font-size:21.5px">e</text>
<text transform="translate(509.80 175.70) scale(0.981 1.047)">ILEAS</text>
<text transform="translate(595.31 175.20) scale(0.981 1)">(em.)</text>
</svg>
</body>
</html>
